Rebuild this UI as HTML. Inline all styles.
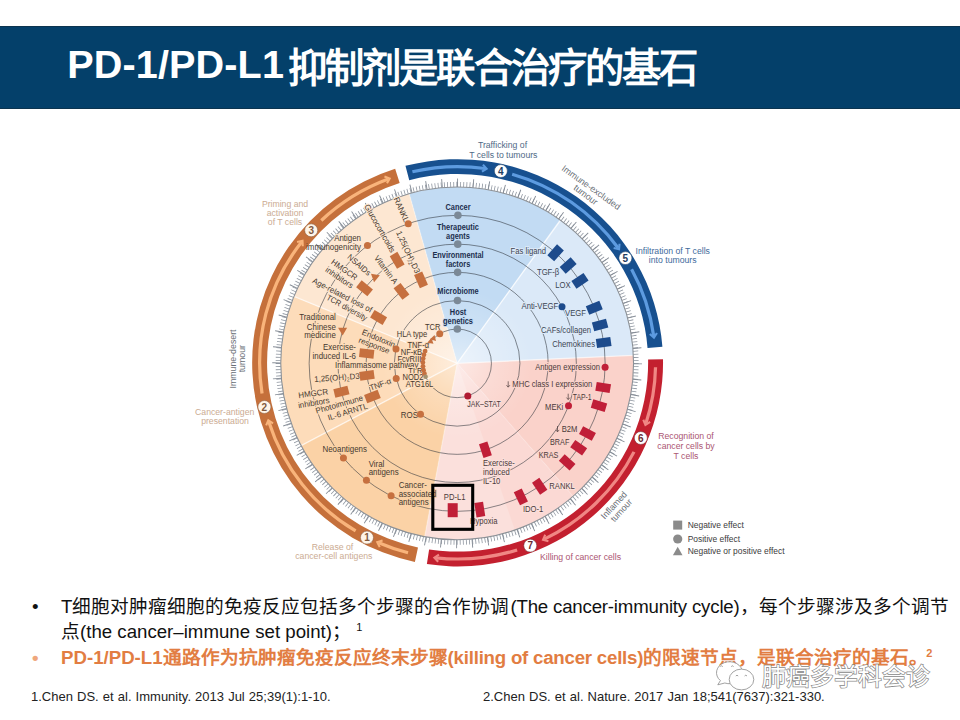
<!DOCTYPE html>
<html lang="zh-CN"><head><meta charset="utf-8"><title>PD-1/PD-L1</title>
<style>
html,body{margin:0;padding:0}
body{width:960px;height:720px;background:#fff;position:relative;overflow:hidden;font-family:"Liberation Sans",sans-serif}
.band{position:absolute;left:0;top:26px;width:960px;height:82.7px;background:#04406a;box-shadow:inset 0 1px 0 #0c344f, inset 0 -1px 0 #0c344f}
.title{position:absolute;left:67.3px;top:16.2px;margin:0;color:#fff;font-weight:bold;font-size:37.3px;line-height:44px;white-space:nowrap;letter-spacing:0.36px}
.title .zh{font-size:39.4px;letter-spacing:-1.85px;position:relative;top:3.4px;left:0.6px}
.title .en{font-size:39.6px;letter-spacing:0.12px;margin-right:3.2px}
svg{position:absolute;left:0;top:0}
svg text{font-family:"Liberation Sans",sans-serif}
.lo{fill:#45392f}
.lb{fill:#1c2f4e}
.lr{fill:#4b3a3a}
.lg{fill:#3b4552}
.bul{position:absolute;left:0;width:960px;font-size:18.67px;line-height:25px;color:#111;white-space:nowrap}
.bul .d{position:absolute;left:32px}
.bul .t{position:absolute;left:61px}
.ref{position:absolute;top:688.5px;font-size:13px;line-height:15px;word-spacing:0.5px;color:#222;white-space:nowrap}
sup{font-size:11px;line-height:0;vertical-align:7px}
.o{color:#e27d42;font-weight:bold}
.o .d{color:#efa77c}
.wm{position:absolute;left:761.8px;top:661px;font-size:23.8px;line-height:32px;font-weight:normal;color:#fff;white-space:nowrap;-webkit-text-stroke:1.4px #888;paint-order:stroke fill;letter-spacing:0px}
</style></head>
<body>
<div class="band"><h1 class="title"><span class="en">PD-1/PD-L1</span><span class="zh">抑制剂是联合治疗的基石</span></h1></div>
<svg width="960" height="720" viewBox="0 0 960 720">
<defs><radialGradient id="cg"><stop offset="0" stop-color="#fff" stop-opacity="0.5"/><stop offset="0.45" stop-color="#fff" stop-opacity="0.22"/><stop offset="1" stop-color="#fff" stop-opacity="0"/></radialGradient></defs>
<path d="M457.15 363.35L409.12 193.61A176.4 176.4 0 0 1 560.34 220.28Z" fill="#c2dbf3" />
<path d="M457.15 363.35L560.34 220.28A176.4 176.4 0 0 1 633.37 355.35Z" fill="#dbe9f8" />
<path d="M457.15 363.35L633.37 355.35A176.4 176.4 0 0 1 573.11 496.28Z" fill="#fad2ca" />
<path d="M457.15 363.35L573.11 496.28A176.4 176.4 0 0 1 424.7 536.74Z" fill="#fbe0dc" />
<path d="M457.15 363.35L424.7 536.74A176.4 176.4 0 0 1 301.11 445.62Z" fill="#fbd2a6" />
<path d="M457.15 363.35L301.11 445.62A176.4 176.4 0 0 1 293.94 296.41Z" fill="#fddcba" />
<path d="M457.15 363.35L293.94 296.41A176.4 176.4 0 0 1 409.12 193.61Z" fill="#fde7d2" />
<path d="M457.15 363.35L573.11 496.28A176.4 176.4 0 0 1 514.87 530.04Z" fill="#fbd9d4" />
<line x1="457.15" y1="363.35" x2="409.12" y2="193.61" stroke="#fff" stroke-opacity="0.3" stroke-width="1.4"/>
<line x1="457.15" y1="363.35" x2="560.34" y2="220.28" stroke="#fff" stroke-opacity="0.75" stroke-width="1.4"/>
<line x1="457.15" y1="363.35" x2="633.37" y2="355.35" stroke="#fff" stroke-opacity="0.6" stroke-width="1.4"/>
<line x1="457.15" y1="363.35" x2="573.11" y2="496.28" stroke="#fff" stroke-opacity="0.12" stroke-width="1.4"/>
<line x1="457.15" y1="363.35" x2="424.7" y2="536.74" stroke="#fff" stroke-opacity="0.3" stroke-width="1.4"/>
<line x1="457.15" y1="363.35" x2="301.11" y2="445.62" stroke="#fff" stroke-opacity="0.65" stroke-width="1.4"/>
<line x1="457.15" y1="363.35" x2="293.94" y2="296.41" stroke="#fff" stroke-opacity="0.6" stroke-width="1.4"/>
<circle cx="457.15" cy="363.35" r="75" fill="url(#cg)"/>
<circle cx="457.15" cy="363.35" r="34.3" fill="none" stroke="#2b3038" stroke-opacity="0.62" stroke-width="0.9"/>
<circle cx="457.15" cy="363.35" r="62.8" fill="none" stroke="#2b3038" stroke-opacity="0.62" stroke-width="0.9"/>
<circle cx="457.15" cy="363.35" r="91.0" fill="none" stroke="#2b3038" stroke-opacity="0.62" stroke-width="0.9"/>
<circle cx="457.15" cy="363.35" r="119.2" fill="none" stroke="#2b3038" stroke-opacity="0.62" stroke-width="0.9"/>
<circle cx="457.15" cy="363.35" r="148.0" fill="none" stroke="#2b3038" stroke-opacity="0.62" stroke-width="0.9"/>
<circle cx="457.15" cy="363.35" r="183.03" fill="none" stroke="#fff" stroke-width="13.25"/>
<circle cx="457.15" cy="363.35" r="178.95" fill="none" stroke="#8f96a0" stroke-width="5.1" stroke-dasharray="0.8 2.32" stroke-dashoffset="0" transform="rotate(-90 457.15 363.35)"/>
<circle cx="457.15" cy="363.35" r="180.65" fill="none" stroke="#858c96" stroke-width="8.5" stroke-dasharray="0.9 14.86" stroke-dashoffset="0" transform="rotate(-90 457.15 363.35)"/>
<circle cx="457.15" cy="363.35" r="176.4" fill="none" stroke="#8b9096" stroke-width="1.1"/>
<g transform="translate(457.6 362.8) scale(1.0046 0.9956) translate(-457.15 -363.35)">
<path d="M414.63 563.38A204.5 204.5 0 0 1 394.98 168.53L399.49 182.68A189.65 189.65 0 0 0 417.72 548.86Z" fill="#c5703b"/>
<path d="M405.26 165.54A204.5 204.5 0 0 1 661.02 347.31L646.22 348.47A189.65 189.65 0 0 0 409.02 179.91Z" fill="#17508f"/>
<path d="M661.62 359.78A204.5 204.5 0 0 1 426.57 565.55L428.79 550.87A189.65 189.65 0 0 0 646.77 360.04Z" fill="#c3202f"/>
<path d="M407.81 554.15A197.07 197.07 0 0 1 378.57 544.08" fill="none" stroke="#f9b47b" stroke-width="3.2"/><path d="M382.48 541.85L377.19 543.48L379.61 548.46" fill="none" stroke="#f9b47b" stroke-width="2.1" stroke-linejoin="miter"/>
<path d="M355.65 532.28A197.07 197.07 0 0 1 269.2 422.61" fill="none" stroke="#f9b47b" stroke-width="3.2"/><path d="M273.44 424.1L268.75 421.18L266.57 426.27" fill="none" stroke="#f9b47b" stroke-width="2.1" stroke-linejoin="miter"/>
<path d="M262.5 394.18A197.07 197.07 0 0 1 301.85 242.02" fill="none" stroke="#f9b47b" stroke-width="3.2"/><path d="M303.03 246.36L302.78 240.84L297.35 241.93" fill="none" stroke="#f9b47b" stroke-width="2.1" stroke-linejoin="miter"/>
<path d="M321.49 220.4A197.07 197.07 0 0 1 388.13 178.76" fill="none" stroke="#f9b47b" stroke-width="3.2"/><path d="M386.86 183.07L389.54 178.23L384.34 176.33" fill="none" stroke="#f9b47b" stroke-width="2.1" stroke-linejoin="miter"/>
<path d="M412.15 171.48A197.07 197.07 0 0 1 484.58 168.19" fill="none" stroke="#5d9be0" stroke-width="3.2"/><path d="M481.4 171.38L486.06 168.4L482.4 164.25" fill="none" stroke="#5d9be0" stroke-width="2.1" stroke-linejoin="miter"/>
<path d="M511.47 173.91A197.07 197.07 0 0 1 616.99 248.07" fill="none" stroke="#5d9be0" stroke-width="3.2"/><path d="M612.49 247.99L617.87 249.29L618.33 243.77" fill="none" stroke="#5d9be0" stroke-width="2.1" stroke-linejoin="miter"/>
<path d="M630.34 269.31A197.07 197.07 0 0 1 652.4 336.6" fill="none" stroke="#5d9be0" stroke-width="3.2"/><path d="M648.47 334.42L652.61 338.09L655.6 333.44" fill="none" stroke="#5d9be0" stroke-width="2.1" stroke-linejoin="miter"/>
<path d="M654.17 367.82A197.07 197.07 0 0 1 644.58 424.25" fill="none" stroke="#f08784" stroke-width="3.2"/><path d="M641.99 420.57L644.12 425.68L648.84 422.79" fill="none" stroke="#f08784" stroke-width="2.1" stroke-linejoin="miter"/>
<path d="M632.75 452.82A197.07 197.07 0 0 1 543.54 540.48" fill="none" stroke="#f08784" stroke-width="3.2"/><path d="M544.39 536.06L542.19 541.14L547.55 542.53" fill="none" stroke="#f08784" stroke-width="2.1" stroke-linejoin="miter"/>
<path d="M516.41 551.3A197.07 197.07 0 0 1 435.52 559.23" fill="none" stroke="#f08784" stroke-width="3.2"/><path d="M438.6 555.95L434.03 559.07L437.81 563.11" fill="none" stroke="#f08784" stroke-width="2.1" stroke-linejoin="miter"/>
<circle cx="366.93" cy="538.9" r="6.5" fill="#fff5e9" stroke="#80593f" stroke-opacity="0.75" stroke-width="0.7"/><text x="366.93" y="542.6" text-anchor="middle" font-size="10.6" font-weight="bold" fill="#80593f" transform="translate(22.02 0) scale(0.94 1)">1</text>
<circle cx="264.83" cy="407.75" r="6.5" fill="#fff5e9" stroke="#80593f" stroke-opacity="0.75" stroke-width="0.7"/><text x="264.83" y="411.45" text-anchor="middle" font-size="10.6" font-weight="bold" fill="#80593f" transform="translate(15.89 0) scale(0.94 1)">2</text>
<circle cx="311.4" cy="230.26" r="6.5" fill="#fff5e9" stroke="#80593f" stroke-opacity="0.75" stroke-width="0.7"/><text x="311.4" y="233.96" text-anchor="middle" font-size="10.6" font-weight="bold" fill="#80593f" transform="translate(18.68 0) scale(0.94 1)">3</text>
<circle cx="500.21" cy="170.73" r="6.5" fill="#ffffff" stroke="#1f3d5f" stroke-opacity="0.75" stroke-width="0.7"/><text x="500.21" y="174.43" text-anchor="middle" font-size="10.6" font-weight="bold" fill="#1f3d5f" transform="translate(30.01 0) scale(0.94 1)">4</text>
<circle cx="624.17" cy="258.17" r="6.5" fill="#ffffff" stroke="#1f3d5f" stroke-opacity="0.75" stroke-width="0.7"/><text x="624.17" y="261.87" text-anchor="middle" font-size="10.6" font-weight="bold" fill="#1f3d5f" transform="translate(37.45 0) scale(0.94 1)">5</text>
<circle cx="639.5" cy="438.88" r="6.5" fill="#ffffff" stroke="#6a2a30" stroke-opacity="0.75" stroke-width="0.7"/><text x="639.5" y="442.58" text-anchor="middle" font-size="10.6" font-weight="bold" fill="#6a2a30" transform="translate(38.37 0) scale(0.94 1)">6</text>
<circle cx="529.49" cy="546.99" r="6.5" fill="#ffffff" stroke="#6a2a30" stroke-opacity="0.75" stroke-width="0.7"/><text x="529.49" y="550.69" text-anchor="middle" font-size="10.6" font-weight="bold" fill="#6a2a30" transform="translate(31.77 0) scale(0.94 1)">7</text>
</g>
<text class="lb" transform="translate(458 207.3) scale(0.9 1)" y="2.95" text-anchor="middle" font-size="8.2" font-weight="bold" stroke="#c2dbf3" stroke-width="2.2" paint-order="stroke" stroke-linejoin="round">Cancer</text>
<text class="lb" transform="translate(458 227) scale(0.9 1)" y="2.95" text-anchor="middle" font-size="8.2" font-weight="bold" stroke="#c2dbf3" stroke-width="2.2" paint-order="stroke" stroke-linejoin="round">Therapeutic</text>
<text class="lb" transform="translate(458 235.9) scale(0.9 1)" y="2.95" text-anchor="middle" font-size="8.2" font-weight="bold" stroke="#c2dbf3" stroke-width="2.2" paint-order="stroke" stroke-linejoin="round">agents</text>
<text class="lb" transform="translate(458 255.5) scale(0.9 1)" y="2.95" text-anchor="middle" font-size="8.2" font-weight="bold" stroke="#c2dbf3" stroke-width="2.2" paint-order="stroke" stroke-linejoin="round">Environmental</text>
<text class="lb" transform="translate(458 264.3) scale(0.9 1)" y="2.95" text-anchor="middle" font-size="8.2" font-weight="bold" stroke="#c2dbf3" stroke-width="2.2" paint-order="stroke" stroke-linejoin="round">factors</text>
<text class="lb" transform="translate(458 291.3) scale(0.9 1)" y="2.95" text-anchor="middle" font-size="8.2" font-weight="bold" stroke="#c2dbf3" stroke-width="2.2" paint-order="stroke" stroke-linejoin="round">Microbiome</text>
<text class="lb" transform="translate(458 312) scale(0.9 1)" y="2.95" text-anchor="middle" font-size="8.2" font-weight="bold" stroke="#c2dbf3" stroke-width="2.2" paint-order="stroke" stroke-linejoin="round">Host</text>
<text class="lb" transform="translate(458 320.9) scale(0.9 1)" y="2.95" text-anchor="middle" font-size="8.2" font-weight="bold" stroke="#c2dbf3" stroke-width="2.2" paint-order="stroke" stroke-linejoin="round">genetics</text>
<text class="lo" transform="translate(401.6 209.5) rotate(66) scale(0.965 1)" y="2.95" text-anchor="middle" font-size="8.2" stroke="#fde7d2" stroke-width="2.2" paint-order="stroke" stroke-linejoin="round">RANKL</text>
<text class="lo" transform="translate(408.3 252) rotate(65) scale(0.965 1)" y="2.95" text-anchor="middle" font-size="8.2" stroke="#fde7d2" stroke-width="2.2" paint-order="stroke" stroke-linejoin="round">1,25(OH)<tspan font-size="5.6" dy="1.8">2</tspan><tspan dy="-1.8">D3</tspan></text>
<text class="lo" transform="translate(380 228.3) rotate(60.3) scale(0.965 1)" y="2.95" text-anchor="middle" font-size="8.2" stroke="#fde7d2" stroke-width="2.2" paint-order="stroke" stroke-linejoin="round">Glucocorticoids</text>
<text class="lo" transform="translate(361 238.2) scale(0.965 1)" y="2.95" text-anchor="end" font-size="8.2" stroke="#fde7d2" stroke-width="2.2" paint-order="stroke" stroke-linejoin="round">Antigen</text>
<text class="lo" transform="translate(361 247.2) scale(0.965 1)" y="2.95" text-anchor="end" font-size="8.2">immunogenicity</text>
<text class="lo" transform="translate(359.2 264.7) rotate(41) scale(0.965 1)" y="2.95" text-anchor="middle" font-size="8.2" stroke="#fde7d2" stroke-width="2.2" paint-order="stroke" stroke-linejoin="round">NSAIDs</text>
<text class="lo" transform="translate(386.2 269.5) rotate(53) scale(0.965 1)" y="2.95" text-anchor="middle" font-size="8.2" stroke="#fde7d2" stroke-width="2.2" paint-order="stroke" stroke-linejoin="round">Vitamin A</text>
<text class="lo" transform="translate(344.5 269.5) rotate(35) scale(0.965 1)" y="2.95" text-anchor="middle" font-size="8.2" stroke="#fde7d2" stroke-width="2.2" paint-order="stroke" stroke-linejoin="round">HMGCR</text>
<text class="lo" transform="translate(339.5 277.5) rotate(34) scale(0.965 1)" y="2.95" text-anchor="middle" font-size="8.2" stroke="#fde7d2" stroke-width="2.2" paint-order="stroke" stroke-linejoin="round">inhibitors</text>
<text class="lo" transform="translate(342.5 295) rotate(27.2) scale(0.965 1)" y="2.95" text-anchor="middle" font-size="8.2" stroke="#fde7d2" stroke-width="2.2" paint-order="stroke" stroke-linejoin="round">Age-related loss of</text>
<text class="lo" transform="translate(347 307.5) rotate(29) scale(0.92 1)" y="2.95" text-anchor="middle" font-size="8.2" stroke="#fde7d2" stroke-width="2.2" paint-order="stroke" stroke-linejoin="round">TCR diversity</text>
<text class="lo" transform="translate(335.8 317.5) scale(0.965 1)" y="2.95" text-anchor="end" font-size="8.2" stroke="#fddcba" stroke-width="2.2" paint-order="stroke" stroke-linejoin="round">Traditional</text>
<text class="lo" transform="translate(335.8 326.6) scale(0.965 1)" y="2.95" text-anchor="end" font-size="8.2" stroke="#fddcba" stroke-width="2.2" paint-order="stroke" stroke-linejoin="round">Chinese</text>
<text class="lo" transform="translate(335.8 335.5) scale(0.965 1)" y="2.95" text-anchor="end" font-size="8.2" stroke="#fddcba" stroke-width="2.2" paint-order="stroke" stroke-linejoin="round">medicine</text>
<text class="lo" transform="translate(356 347.5) scale(0.965 1)" y="2.95" text-anchor="end" font-size="8.2" stroke="#fddcba" stroke-width="2.2" paint-order="stroke" stroke-linejoin="round">Exercise-</text>
<text class="lo" transform="translate(356 356.3) scale(0.965 1)" y="2.95" text-anchor="end" font-size="8.2" stroke="#fddcba" stroke-width="2.2" paint-order="stroke" stroke-linejoin="round">induced IL-6</text>
<text class="lo" transform="translate(378.7 338.3) rotate(22.3) scale(0.965 1)" y="2.95" text-anchor="middle" font-size="8.2" stroke="#fddcba" stroke-width="2.2" paint-order="stroke" stroke-linejoin="round">Endotoxin</text>
<text class="lo" transform="translate(374.2 345.3) rotate(21) scale(0.965 1)" y="2.95" text-anchor="middle" font-size="8.2" stroke="#fddcba" stroke-width="2.2" paint-order="stroke" stroke-linejoin="round">response</text>
<text class="lo" transform="translate(396.7 334.2) scale(0.92 1)" y="2.95" text-anchor="start" font-size="8.2" stroke="#fde7d2" stroke-width="2.2" paint-order="stroke" stroke-linejoin="round">HLA type</text>
<text class="lo" transform="translate(425 327) scale(0.92 1)" y="2.95" text-anchor="start" font-size="8.2" stroke="#fde7d2" stroke-width="2.2" paint-order="stroke" stroke-linejoin="round">TCR</text>
<text class="lo" transform="translate(407.5 345.3) scale(0.92 1)" y="2.95" text-anchor="start" font-size="8.2" stroke="#fddcba" stroke-width="2.2" paint-order="stroke" stroke-linejoin="round">TNF-α</text>
<text class="lo" transform="translate(400.8 351.8) scale(0.92 1)" y="2.95" text-anchor="start" font-size="8.2" stroke="#fddcba" stroke-width="2.2" paint-order="stroke" stroke-linejoin="round">NF-κB</text>
<text class="lo" transform="translate(397.5 358.6) scale(0.92 1)" y="2.95" text-anchor="start" font-size="8.2" stroke="#fddcba" stroke-width="2.2" paint-order="stroke" stroke-linejoin="round">FcγRIII</text>
<text class="lo" transform="translate(335 365) scale(0.965 1)" y="2.95" text-anchor="start" font-size="8.2" stroke="#fddcba" stroke-width="2.2" paint-order="stroke" stroke-linejoin="round">Inflammasome pathway</text>
<text class="lo" transform="translate(408.3 371) scale(0.92 1)" y="2.95" text-anchor="start" font-size="8.2" stroke="#fddcba" stroke-width="2.2" paint-order="stroke" stroke-linejoin="round">TLR</text>
<text class="lo" transform="translate(402.5 377.2) scale(0.92 1)" y="2.95" text-anchor="start" font-size="8.2" stroke="#fddcba" stroke-width="2.2" paint-order="stroke" stroke-linejoin="round">NOD2</text>
<text class="lo" transform="translate(405.8 383.7) scale(0.92 1)" y="2.95" text-anchor="start" font-size="8.2" stroke="#fddcba" stroke-width="2.2" paint-order="stroke" stroke-linejoin="round">ATG16L</text>
<text class="lo" transform="translate(314.2 379) rotate(-4) scale(0.965 1)" y="2.95" text-anchor="start" font-size="8.2" stroke="#fddcba" stroke-width="2.2" paint-order="stroke" stroke-linejoin="round">1,25(OH)<tspan font-size="5.6" dy="1.8">2</tspan><tspan dy="-1.8">D3</tspan></text>
<text class="lo" transform="translate(380.3 384.2) rotate(-19.8) scale(0.965 1)" y="2.95" text-anchor="middle" font-size="8.2" stroke="#fddcba" stroke-width="2.2" paint-order="stroke" stroke-linejoin="round">TNF-α</text>
<text class="lo" transform="translate(313.2 393.2) rotate(-7.7) scale(0.965 1)" y="2.95" text-anchor="middle" font-size="8.2" stroke="#fddcba" stroke-width="2.2" paint-order="stroke" stroke-linejoin="round">HMGCR</text>
<text class="lo" transform="translate(313.7 402.7) rotate(-10) scale(0.965 1)" y="2.95" text-anchor="middle" font-size="8.2" stroke="#fddcba" stroke-width="2.2" paint-order="stroke" stroke-linejoin="round">inhibitors</text>
<text class="lo" transform="translate(339.2 404.2) rotate(-16) scale(0.965 1)" y="2.95" text-anchor="middle" font-size="8.2" stroke="#fddcba" stroke-width="2.2" paint-order="stroke" stroke-linejoin="round">Photoimmune</text>
<text class="lo" transform="translate(347.5 411.7) rotate(-17) scale(0.965 1)" y="2.95" text-anchor="middle" font-size="8.2" stroke="#fddcba" stroke-width="2.2" paint-order="stroke" stroke-linejoin="round">IL-6 ARNTL</text>
<text class="lo" transform="translate(400.8 415) scale(0.965 1)" y="2.95" text-anchor="start" font-size="8.2" stroke="#fbd2a6" stroke-width="2.2" paint-order="stroke" stroke-linejoin="round">ROS</text>
<text class="lo" transform="translate(322.5 449.2) scale(0.965 1)" y="2.95" text-anchor="start" font-size="8.2" stroke="#fbd2a6" stroke-width="2.2" paint-order="stroke" stroke-linejoin="round">Neoantigens</text>
<text class="lo" transform="translate(368.7 463.8) scale(0.965 1)" y="2.95" text-anchor="start" font-size="8.2" stroke="#fbd2a6" stroke-width="2.2" paint-order="stroke" stroke-linejoin="round">Viral</text>
<text class="lo" transform="translate(368.7 472.5) scale(0.965 1)" y="2.95" text-anchor="start" font-size="8.2" stroke="#fbd2a6" stroke-width="2.2" paint-order="stroke" stroke-linejoin="round">antigens</text>
<text class="lo" transform="translate(398.7 484.7) scale(0.965 1)" y="2.95" text-anchor="start" font-size="8.2" stroke="#fbd2a6" stroke-width="2.2" paint-order="stroke" stroke-linejoin="round">Cancer-</text>
<text class="lo" transform="translate(398.7 493.6) scale(0.965 1)" y="2.95" text-anchor="start" font-size="8.2" stroke="#fbd2a6" stroke-width="2.2" paint-order="stroke" stroke-linejoin="round">associated</text>
<text class="lo" transform="translate(398.7 502.5) scale(0.965 1)" y="2.95" text-anchor="start" font-size="8.2" stroke="#fbd2a6" stroke-width="2.2" paint-order="stroke" stroke-linejoin="round">antigens</text>
<text class="lr" transform="translate(454.6 497) scale(0.93 1)" y="2.95" text-anchor="middle" font-size="8.2" stroke="#fbe0dc" stroke-width="2.2" paint-order="stroke" stroke-linejoin="round">PD-L1</text>
<text class="lr" transform="translate(470 520.8) scale(0.93 1)" y="2.95" text-anchor="start" font-size="8.2" stroke="#fbe0dc" stroke-width="2.2" paint-order="stroke" stroke-linejoin="round">Hypoxia</text>
<text class="lr" transform="translate(483 463.3) scale(0.93 1)" y="2.95" text-anchor="start" font-size="8.2" stroke="#fbe0dc" stroke-width="2.2" paint-order="stroke" stroke-linejoin="round">Exercise-</text>
<text class="lr" transform="translate(483 472) scale(0.93 1)" y="2.95" text-anchor="start" font-size="8.2" stroke="#fbe0dc" stroke-width="2.2" paint-order="stroke" stroke-linejoin="round">induced</text>
<text class="lr" transform="translate(483 480.8) scale(0.93 1)" y="2.95" text-anchor="start" font-size="8.2" stroke="#fbe0dc" stroke-width="2.2" paint-order="stroke" stroke-linejoin="round">IL-10</text>
<text class="lr" transform="translate(523 509.5) scale(0.93 1)" y="2.95" text-anchor="start" font-size="8.2" stroke="#fbe0dc" stroke-width="2.2" paint-order="stroke" stroke-linejoin="round">IDO-1</text>
<text class="lr" transform="translate(549.3 485.7) scale(0.93 1)" y="2.95" text-anchor="start" font-size="8.2" stroke="#fbe0dc" stroke-width="2.2" paint-order="stroke" stroke-linejoin="round">RANKL</text>
<text class="lr" transform="translate(467.3 404.3) scale(0.85 1)" y="2.95" text-anchor="start" font-size="8.2" stroke="#fbe0dc" stroke-width="2.2" paint-order="stroke" stroke-linejoin="round">JAK–STAT</text>
<text class="lr" transform="translate(558.3 455) scale(0.88 1)" y="2.95" text-anchor="end" font-size="8.2" stroke="#fad2ca" stroke-width="2.2" paint-order="stroke" stroke-linejoin="round">KRAS</text>
<text class="lr" transform="translate(569.3 441.7) scale(0.88 1)" y="2.95" text-anchor="end" font-size="8.2" stroke="#fad2ca" stroke-width="2.2" paint-order="stroke" stroke-linejoin="round">BRAF</text>
<text class="lr" transform="translate(577.3 429) scale(0.93 1)" y="2.95" text-anchor="end" font-size="8.2" stroke="#fad2ca" stroke-width="2.2" paint-order="stroke" stroke-linejoin="round">B2M</text>
<text class="lr" transform="translate(563.3 406.7) scale(0.93 1)" y="2.95" text-anchor="end" font-size="8.2" stroke="#fad2ca" stroke-width="2.2" paint-order="stroke" stroke-linejoin="round">MEKi</text>
<text class="lr" transform="translate(591.7 396.7) scale(0.84 1)" y="2.95" text-anchor="end" font-size="8.2" stroke="#fad2ca" stroke-width="2.2" paint-order="stroke" stroke-linejoin="round">TAP-1</text>
<text class="lr" transform="translate(592.3 384.3) scale(0.93 1)" y="2.95" text-anchor="end" font-size="8.2" stroke="#fad2ca" stroke-width="2.2" paint-order="stroke" stroke-linejoin="round">MHC class I expression</text>
<path d="M508.2 381.3V386.90000000000003M506.5 385.2L508.2 387.2L509.9 385.2" fill="none" stroke="#4b3a3a" stroke-width="0.7"/>
<path d="M568.2 393.7V399.3M566.5 397.59999999999997L568.2 399.59999999999997L569.9000000000001 397.59999999999997" fill="none" stroke="#4b3a3a" stroke-width="0.7"/>
<path d="M557.5 426V431.6M555.8 429.9L557.5 431.9L559.2 429.9" fill="none" stroke="#4b3a3a" stroke-width="0.7"/>
<text class="lr" transform="translate(600 367.3) scale(0.93 1)" y="2.95" text-anchor="end" font-size="8.2" stroke="#fad2ca" stroke-width="2.2" paint-order="stroke" stroke-linejoin="round">Antigen expression</text>
<text class="lg" transform="translate(546 251) scale(0.94 1)" y="2.95" text-anchor="end" font-size="8.2" stroke="#dbe9f8" stroke-width="2.2" paint-order="stroke" stroke-linejoin="round">Fas ligand</text>
<text class="lg" transform="translate(559.3 271.7) scale(0.94 1)" y="2.95" text-anchor="end" font-size="8.2" stroke="#dbe9f8" stroke-width="2.2" paint-order="stroke" stroke-linejoin="round">TGF-β</text>
<text class="lg" transform="translate(570.7 285.3) scale(0.94 1)" y="2.95" text-anchor="end" font-size="8.2" stroke="#dbe9f8" stroke-width="2.2" paint-order="stroke" stroke-linejoin="round">LOX</text>
<text class="lg" transform="translate(558.3 306.3) scale(0.94 1)" y="2.95" text-anchor="end" font-size="8.2" stroke="#dbe9f8" stroke-width="2.2" paint-order="stroke" stroke-linejoin="round">Anti-VEGF</text>
<text class="lg" transform="translate(586 313) scale(0.94 1)" y="2.95" text-anchor="end" font-size="8.2" stroke="#dbe9f8" stroke-width="2.2" paint-order="stroke" stroke-linejoin="round">VEGF</text>
<text class="lg" transform="translate(591 329.7) scale(0.94 1)" y="2.95" text-anchor="end" font-size="8.2" stroke="#dbe9f8" stroke-width="2.2" paint-order="stroke" stroke-linejoin="round">CAFs/collagen</text>
<text class="lg" transform="translate(595 343.7) scale(0.94 1)" y="2.95" text-anchor="end" font-size="8.2" stroke="#dbe9f8" stroke-width="2.2" paint-order="stroke" stroke-linejoin="round">Chemokines</text>
<text fill="#cbab92" transform="translate(285 203.3) scale(0.965 1)" y="3.24" text-anchor="middle" font-size="9.0">Priming and</text>
<text fill="#cbab92" transform="translate(285 212.3) scale(0.965 1)" y="3.24" text-anchor="middle" font-size="9.0">activation</text>
<text fill="#cbab92" transform="translate(285 221.3) scale(0.965 1)" y="3.24" text-anchor="middle" font-size="9.0">of T cells</text>
<text fill="#cbab92" transform="translate(224.7 411.7) scale(0.965 1)" y="3.24" text-anchor="middle" font-size="9.0">Cancer-antigen</text>
<text fill="#cbab92" transform="translate(225 421) scale(0.965 1)" y="3.24" text-anchor="middle" font-size="9.0">presentation</text>
<text fill="#cbab92" transform="translate(332.5 546.7) scale(0.965 1)" y="3.24" text-anchor="middle" font-size="9.0">Release of</text>
<text fill="#cbab92" transform="translate(333.8 555.7) scale(0.965 1)" y="3.24" text-anchor="middle" font-size="9.0">cancer-cell antigens</text>
<text fill="#506a86" transform="translate(502.5 145) scale(0.965 1)" y="3.24" text-anchor="middle" font-size="9.0">Trafficking of</text>
<text fill="#506a86" transform="translate(503.3 154.3) scale(0.965 1)" y="3.24" text-anchor="middle" font-size="9.0">T cells to tumours</text>
<text fill="#3e6b9c" transform="translate(672.7 250.7) scale(0.965 1)" y="3.24" text-anchor="middle" font-size="9.0">Infiltration of T cells</text>
<text fill="#3e6b9c" transform="translate(672.7 259.7) scale(0.965 1)" y="3.24" text-anchor="middle" font-size="9.0">into tumours</text>
<text fill="#ab5572" transform="translate(686 435.8) scale(0.965 1)" y="3.24" text-anchor="middle" font-size="9.0">Recognition of</text>
<text fill="#ab5572" transform="translate(686 445.8) scale(0.965 1)" y="3.24" text-anchor="middle" font-size="9.0">cancer cells by</text>
<text fill="#ab5572" transform="translate(686 455.7) scale(0.965 1)" y="3.24" text-anchor="middle" font-size="9.0">T cells</text>
<text fill="#ab5572" transform="translate(580.5 556.7) scale(0.965 1)" y="3.24" text-anchor="middle" font-size="9.0">Killing of cancer cells</text>
<text fill="#696e75" transform="translate(591.3 187.3) rotate(35.5) scale(0.965 1)" y="3.28" text-anchor="middle" font-size="9.1">Immune-excluded</text>
<text fill="#696e75" transform="translate(585.9 194.6) rotate(37) scale(0.965 1)" y="3.28" text-anchor="middle" font-size="9.1">tumour</text>
<text fill="#696e75" transform="translate(232.8 359) rotate(-90) scale(0.965 1)" y="3.28" text-anchor="middle" font-size="9.1">Immune-desert</text>
<text fill="#696e75" transform="translate(241.7 358.7) rotate(-90) scale(0.965 1)" y="3.28" text-anchor="middle" font-size="9.1">tumour</text>
<text fill="#696e75" transform="translate(613.7 505) rotate(-47.6) scale(0.965 1)" y="3.28" text-anchor="middle" font-size="9.1">Inflamed</text>
<text fill="#696e75" transform="translate(621.2 510.3) rotate(-47.6) scale(0.965 1)" y="3.28" text-anchor="middle" font-size="9.1">tumour</text>
<rect x="673.2" y="520.6" width="9" height="9" fill="#8b8b8b"/>
<circle cx="677.7" cy="539" r="4.6" fill="#8b8b8b"/>
<polygon points="672.9,555.2 682.5,555.2 677.7,546.8" fill="#8b8b8b"/>
<text fill="#3c3c3c" transform="translate(687.7 525) scale(0.965 1)" y="3.15" text-anchor="start" font-size="8.75">Negative effect</text>
<text fill="#3c3c3c" transform="translate(687.7 539) scale(0.965 1)" y="3.15" text-anchor="start" font-size="8.75">Positive effect</text>
<text fill="#3c3c3c" transform="translate(687.7 551.2) scale(0.965 1)" y="3.15" text-anchor="start" font-size="8.75">Negative or positive effect</text>
<circle cx="457.92" cy="215.35" r="3.8" fill="#7b8997"/>
<circle cx="457.77" cy="244.15" r="3.8" fill="#7b8997"/>
<circle cx="457.63" cy="272.35" r="3.8" fill="#7b8997"/>
<circle cx="457.48" cy="300.55" r="3.8" fill="#7b8997"/>
<circle cx="457.33" cy="329.05" r="3.8" fill="#7b8997"/>
<circle cx="408.23" cy="223.67" r="3.5" fill="#c6703f"/>
<circle cx="367.46" cy="245.62" r="3.5" fill="#c6703f"/>
<circle cx="396.01" cy="349.01" r="3.5" fill="#c6703f"/>
<circle cx="396.22" cy="378.54" r="3.5" fill="#c6703f"/>
<circle cx="420.5" cy="414.35" r="3.5" fill="#c6703f"/>
<circle cx="343.44" cy="458.09" r="3.5" fill="#c6703f"/>
<circle cx="366.44" cy="480.29" r="3.5" fill="#c6703f"/>
<circle cx="391.11" cy="495.8" r="3.5" fill="#c6703f"/>
<circle cx="439.74" cy="333.8" r="3.5" fill="#c6703f"/>
<rect x="-4.4" y="-7.25" width="8.8" height="14.5" fill="#c6703f" transform="translate(397.19 260.33) rotate(329.8)"/>
<rect x="-4.4" y="-7.25" width="8.8" height="14.5" fill="#c6703f" transform="translate(421.01 279.83) rotate(336.6)"/>
<rect x="-4.4" y="-7.25" width="8.8" height="14.5" fill="#c6703f" transform="translate(401.5 291.35) rotate(322.3)"/>
<rect x="-4.4" y="-7.25" width="8.8" height="14.5" fill="#c6703f" transform="translate(364.51 288.34) rotate(309)"/>
<rect x="-4.4" y="-7.25" width="8.8" height="14.5" fill="#c6703f" transform="translate(378.58 317.44) rotate(300.3)"/>
<rect x="-4.4" y="-7.25" width="8.8" height="14.5" fill="#c6703f" transform="translate(366.68 353.52) rotate(276.2)"/>
<rect x="-4.4" y="-7.25" width="8.8" height="14.5" fill="#c6703f" transform="translate(366.95 375.39) rotate(262.4)"/>
<rect x="-4.4" y="-7.25" width="8.8" height="14.5" fill="#c6703f" transform="translate(341.39 391.78) rotate(256.2)"/>
<rect x="-4.4" y="-7.25" width="8.8" height="14.5" fill="#c6703f" transform="translate(372.42 396.55) rotate(248.6)"/>
<polygon points="374.04,282.15 370.96,273.69 379.83,275.25" fill="#c6703f"/>
<polygon points="342.63,335.49 338.12,327.69 347.13,327.69" fill="#c6703f"/>
<polygon points="436.02,341.08 430.04,339.31 434.56,335.02" fill="#c6703f"/>
<polygon points="433.46,343.82 427.31,342.79 431.28,337.98" fill="#c6703f"/>
<circle cx="425.13" cy="351.06" r="2.4" fill="#c6703f"/>
<circle cx="423.94" cy="354.76" r="2.4" fill="#c6703f"/>
<circle cx="423.18" cy="358.58" r="2.4" fill="#c6703f"/>
<circle cx="422.86" cy="362.45" r="2.4" fill="#c6703f"/>
<circle cx="422.98" cy="366.34" r="2.4" fill="#c6703f"/>
<circle cx="423.54" cy="370.19" r="2.4" fill="#c6703f"/>
<circle cx="424.44" cy="373.66" r="2.4" fill="#c6703f"/>
<circle cx="425.58" cy="376.75" r="2.3" fill="#a3916e"/>
<rect x="-4.55" y="-7.3" width="9.1" height="14.6" fill="#1d4b8c" transform="translate(555.6 252.85) rotate(41.7)"/>
<rect x="-4.55" y="-7.3" width="9.1" height="14.6" fill="#1d4b8c" transform="translate(568.17 265.48) rotate(48.6)"/>
<rect x="-4.55" y="-7.3" width="9.1" height="14.6" fill="#1d4b8c" transform="translate(579.99 280.8) rotate(56.1)"/>
<rect x="-4.55" y="-7.3" width="9.1" height="14.6" fill="#1d4b8c" transform="translate(594.28 307.67) rotate(67.9)"/>
<rect x="-4.55" y="-7.3" width="9.1" height="14.6" fill="#1d4b8c" transform="translate(600.11 325.04) rotate(75)"/>
<rect x="-4.55" y="-7.3" width="9.1" height="14.6" fill="#1d4b8c" transform="translate(603.67 342.5) rotate(81.9)"/>
<circle cx="562" cy="306.66" r="3.5" fill="#1d4b8c"/>
<circle cx="605.1" cy="367.22" r="3.5" fill="#c01f38"/>
<circle cx="568.51" cy="405.87" r="3.5" fill="#c01f38"/>
<circle cx="467.81" cy="395.95" r="3.5" fill="#b01a32"/>
<rect x="-4.4" y="-7.25" width="8.8" height="14.5" fill="#c01f38" transform="translate(603.16 387.52) rotate(99.4)"/>
<rect x="-4.4" y="-7.25" width="8.8" height="14.5" fill="#c01f38" transform="translate(598.98 405.63) rotate(106.6)"/>
<rect x="-4.4" y="-7.25" width="8.8" height="14.5" fill="#c01f38" transform="translate(587.46 433.52) rotate(118.3)"/>
<rect x="-4.4" y="-7.25" width="8.8" height="14.5" fill="#c01f38" transform="translate(578.68 447.82) rotate(124.8)"/>
<rect x="-4.4" y="-7.25" width="8.8" height="14.5" fill="#c01f38" transform="translate(567.14 462.38) rotate(132)"/>
<rect x="-4.4" y="-7.25" width="8.8" height="14.5" fill="#c01f38" transform="translate(539.7 486.19) rotate(146.1)"/>
<rect x="-4.4" y="-7.25" width="8.8" height="14.5" fill="#c01f38" transform="translate(520.87 496.93) rotate(154.5)"/>
<rect x="-4.4" y="-7.25" width="8.8" height="14.5" fill="#c01f38" transform="translate(479.79 509.61) rotate(171.2)"/>
<rect x="-5" y="-7" width="10" height="14" fill="#c01f38" transform="translate(452.7 510.2) rotate(180)"/>
<rect x="-4.4" y="-7.25" width="8.8" height="14.5" fill="#c01f38" transform="translate(485.42 449.85) rotate(161.9)"/>
<rect x="432.8" y="485.3" width="39.9" height="44" fill="none" stroke="#000" stroke-width="3.1"/>

</svg>
<div class="bul" style="top:594px"><span class="d">•</span><span class="t">T细胞对肿瘤细胞的免疫反应包括多个步骤的合作协调<span style="margin-left:-4px;letter-spacing:-0.19px"> (The cancer-immunity cycle)</span>，每个步骤涉及多个调节</span></div>
<div class="bul" style="top:619px"><span class="t">点(the cancer–immune set point)； <sup>1</sup></span></div>
<div class="bul o" style="top:645px"><span class="d">•</span><span class="t">PD-1/PD-L1通路作为抗肿瘤免疫反应终末步骤<span style="letter-spacing:-0.22px">(killing of cancer cells)</span>的限速节点，是联合治疗的基石。<sup style="margin-left:-2px">2</sup></span></div>
<div class="ref" style="left:31px">1.Chen DS. et al. Immunity. 2013 Jul 25;39(1):1-10.</div>
<div class="ref" style="left:483px">2.Chen DS. et al. Nature. 2017 Jan 18;541(7637):321-330.</div>
<svg width="960" height="720" viewBox="0 0 960 720" style="pointer-events:none"><g fill="#fff" stroke="#8a8a8a" stroke-width="0.8">
<path d="M717.8 684.8 L720.4 680.6 A13 11 0 1 1 724.8 683 Z"/>
<ellipse cx="741.5" cy="679.5" rx="12.3" ry="10.4"/>
<path d="M720.4 666.6q1.2-1.6 2.4 0M731.2 666.6q1.2-1.6 2.4 0M735.8 676q1.2-1.6 2.4 0M744.6 676q1.2-1.6 2.4 0" fill="none"/>
</g></svg>
<div class="wm">肺癌多学科会诊</div>
</body></html>
